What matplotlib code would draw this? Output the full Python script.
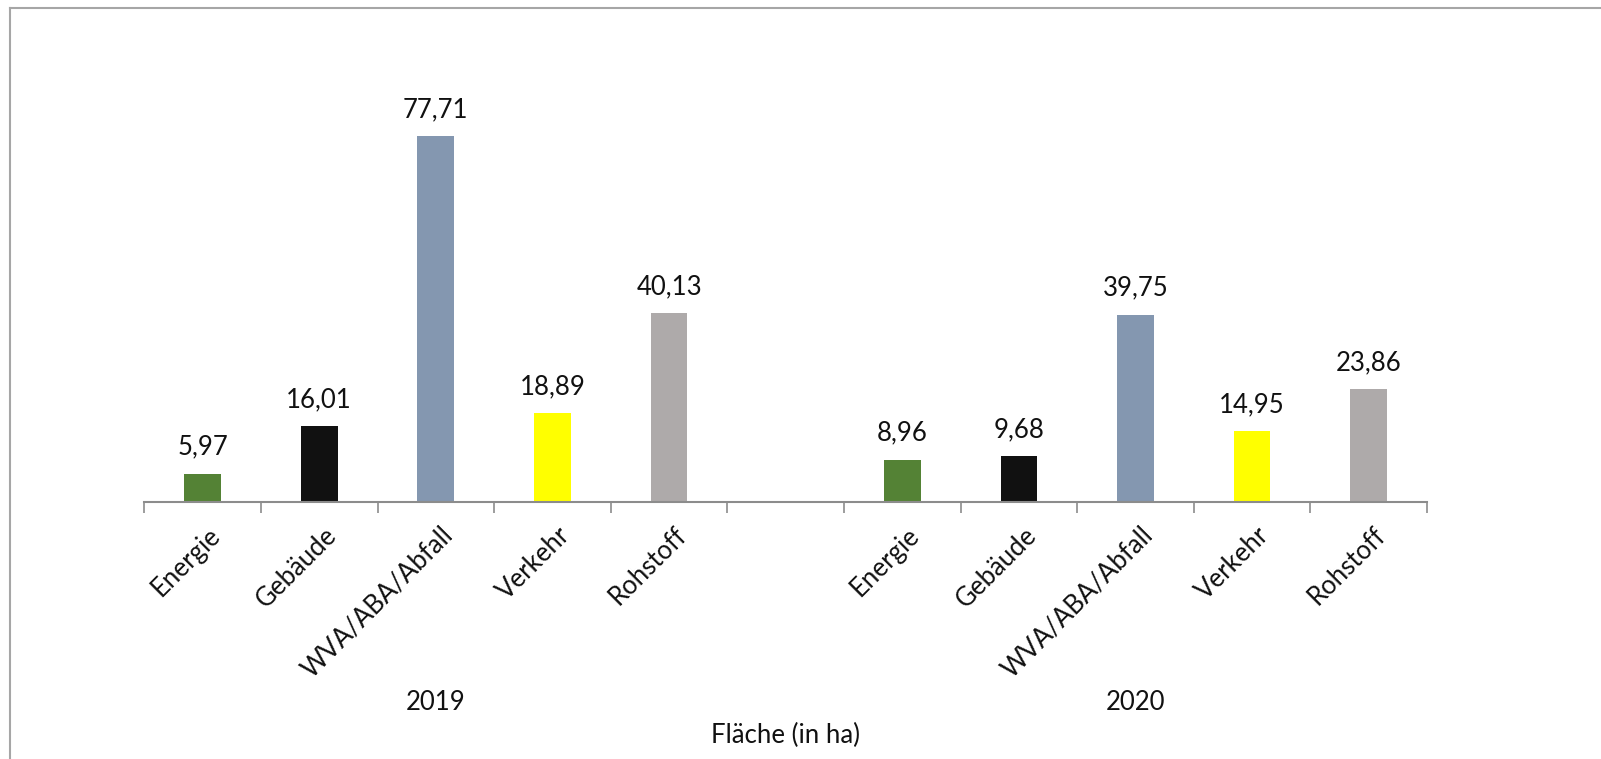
import matplotlib.pyplot as plt
from matplotlib.lines import Line2D

# Flächen je Kategorie (in ha)
categories = ['Energie', 'Gebäude', 'WVA/ABA/Abfall', 'Verkehr', 'Rohstoff']
years = ['2019', '2020']
values_2019 = [5.97, 16.01, 77.71, 18.89, 40.13]
values_2020 = [8.96, 9.68, 39.75, 14.95, 23.86]
colors = ['#548235', '#111111', '#8497B0', '#FFFF00', '#AEAAAA']

plt.rcParams['font.family'] = ['Lato', 'DejaVu Sans']
FS = 18.5

fig = plt.figure(figsize=(16.01, 7.59), dpi=100)
W, H = 1601, 759
# axes position in pixel coordinates of the reference
x0, x1 = 144.3, 1427.0
y_axis, y_top = 501.7, 78.0
ax = fig.add_axes([x0 / W, 1 - y_axis / H, (x1 - x0) / W, (y_axis - y_top) / H])

# 11 slots: 5 bars, one empty gap, 5 bars
positions = list(range(5)) + list(range(6, 11))
all_values = values_2019 + values_2020
all_colors = colors + colors
all_labels = categories + categories

bars = ax.bar(positions, all_values, width=0.315, color=all_colors)
for b, v in zip(bars, all_values):
    ax.annotate(f'{v:.2f}'.replace('.', ','), (b.get_x() + b.get_width() / 2, v),
                xytext=(0, 10), textcoords='offset points', ha='center', va='bottom',
                fontsize=FS, color='#111111')

ax.set_xlim(-0.5, 10.5)
ax.set_ylim(0, 90)
ax.set_yticks([])
for s in ['top', 'right', 'left']:
    ax.spines[s].set_visible(False)
ax.spines['bottom'].set_color('#8C8C8C')
ax.spines['bottom'].set_linewidth(1.5)

# tick marks between slots, labels under bars
ax.set_xticks([i - 0.5 for i in range(12)], minor=False)
ax.set_xticklabels([])
ax.tick_params(axis='x', which='major', length=8, width=1.2, color='#8C8C8C', direction='out')
ax.set_xticks([p + 0.04 for p in positions], minor=True)
ax.set_xticklabels(all_labels, minor=True, rotation=45, ha='right',
                   rotation_mode='anchor', fontsize=FS, color='#111111')
ax.tick_params(axis='x', which='minor', length=0, pad=15)

# year labels and axis title
for yr, center in zip(years, [2, 8]):
    ax.text(center, -0.475, yr, transform=ax.get_xaxis_transform(),
            ha='center', va='center', fontsize=FS, color='#111111')
ax.text(0.5, -0.552, 'Fläche (in ha)', transform=ax.transAxes,
        ha='center', va='center', fontsize=FS, color='#111111')

# chart frame (top and left visible)
fig.add_artist(Line2D([9.5 / W, 9.5 / W], [0, 1 - 7.5 / H], transform=fig.transFigure,
                      color='#A6A6A6', linewidth=1.5))
fig.add_artist(Line2D([9.5 / W, 1], [1 - 7.5 / H, 1 - 7.5 / H], transform=fig.transFigure,
                      color='#A6A6A6', linewidth=1.5))

fig.savefig('out.png', dpi=100)
